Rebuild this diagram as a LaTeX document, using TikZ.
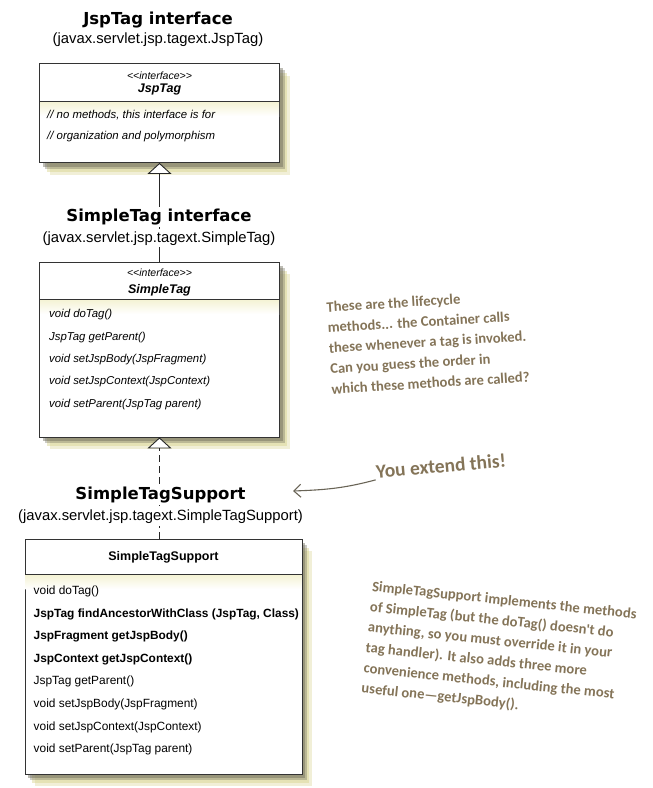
\documentclass[tikz,border=0pt]{standalone}
\usepackage{fontspec}
\setmainfont{Liberation Sans}
\newfontfamily\titlefont{DejaVu Sans}
\newfontfamily\handfont{Carlito}
\usetikzlibrary{arrows.meta,positioning,shadows}
\definecolor{shadowcol}{RGB}{110,108,90}
\definecolor{haze}{RGB}{215,210,140}
\definecolor{notecol}{RGB}{132,116,88}
\definecolor{arrowcol}{RGB}{105,100,86}
\definecolor{bandcol}{RGB}{244,242,210}
\tikzset{
  umlbox/.style={draw=black!80, line width=0.8pt, fill=white, inner sep=0pt,
    drop shadow={shadow xshift=10pt, shadow yshift=-12pt, fill=haze, opacity=.35},
    drop shadow={shadow xshift=7pt, shadow yshift=-9pt, fill=haze, opacity=.45},
    drop shadow={shadow xshift=5pt, shadow yshift=-6pt, fill=shadowcol, opacity=.35},
    drop shadow={shadow xshift=3pt, shadow yshift=-4pt, fill=shadowcol, opacity=.45}},
  heading/.style={font=\titlefont\bfseries\fontsize{16.5}{19}\selectfont, fill=white, inner sep=2pt},
  pkgname/.style={font=\fontsize{14.8}{17}\selectfont, fill=white, inner sep=2pt},
  stereo/.style={font=\itshape\fontsize{10.5}{12}\selectfont, inner sep=0pt},
  boxname/.style={font=\bfseries\itshape\fontsize{12.5}{14}\selectfont, inner sep=0pt},
  method/.style={anchor=west, inner sep=0pt, font=\itshape\fontsize{11.4}{13}\selectfont},
  suppmethod/.style={anchor=west, inner sep=0pt, font=\fontsize{11.9}{13}\selectfont},
  note/.style={font=\handfont\bfseries\fontsize{14.6}{20.5}\selectfont, text=notecol, align=left},
  inherit/.style={draw=black!85, line width=0.9pt,
    -{Triangle[open, fill=white, width=24pt, length=11pt, line width=0.9pt]}}
}
\begin{document}
\begin{tikzpicture}[x=1pt,y=-1pt]
\useasboundingbox (0,0) rectangle (653,788);
% class boxes
\node[umlbox, minimum width=240pt, minimum height=99pt] (jspbox) at (159.5,113) {};
\node[umlbox, minimum width=240pt, minimum height=175pt] (simplebox) at (159.5,349.5) {};
\node[umlbox, minimum width=277pt, minimum height=235pt] (supportbox) at (163.5,656.5) {};
\foreach \xl/\xr/\y in {39.5/279.5/101, 39.5/279.5/299, 25/302/574} {
  \shade[top color=bandcol, bottom color=white] ({\xl+0.5},\y) rectangle ({\xr-0.5},{\y+15});
  \draw[draw=black!80, line width=0.8pt] (\xl,\y) -- (\xr,\y);
}
% headers
\node[stereo] (jspstereo) at (159.5,76) {<\kern0pt<interface>\kern0pt>};
\node[boxname] (jspname) at (159.5,89.5) {JspTag};
\node[stereo] (simplestereo) at (159.5,273) {<\kern0pt<interface>\kern0pt>};
\node[boxname] (simplename) at (159.5,290) {SimpleTag};
\node[font=\bfseries\fontsize{12.5}{14}\selectfont, inner sep=0pt] (suppname) at (163.5,557) {SimpleTagSupport};
% members
\node[method] (jm1) at (47,115) {// no methods, this interface is for};
\node[method] (jm2) at (47,136.7) {// organization and polymorphism};
\foreach \m [count=\i] in {{void doTag()}, {JspTag getParent()}, {void setJspBody(JspFragment)},
    {void setJspContext(JspContext)}, {void setParent(JspTag parent)}}
  \node[method] (sm\i) at (49,{315+22.3*(\i-1)}) {\m};
\foreach \m [count=\i] in {{void doTag()}, {\textbf{JspTag findAncestorWithClass (JspTag, Class)}},
    {\textbf{JspFragment getJspBody()}}, {\textbf{JspContext getJspContext()}}, {JspTag getParent()},
    {void setJspBody(JspFragment)}, {void setJspContext(JspContext)}, {void setParent(JspTag parent)}}
  \node[suppmethod] (pm\i) at (33.5,{591.5+22.6*(\i-1)}) {\m};
% inheritance
\draw[inherit] (simplebox.north) -- (jspbox.south);
\draw[inherit, dash pattern=on 7pt off 4pt] (simplebox.south |- supportbox.north) -- (simplebox.south);
% titles
\node[heading] (jsptitle) at (158,20) {JspTag interface};
\node[pkgname] (jsppkg) at (158,40) {(javax.servlet.jsp.tagext.JspTag)};
\node[heading] (simpletitle) at (159,216.7) {SimpleTag interface};
\node[pkgname] (simplepkg) at (159,238.3) {(javax.servlet.jsp.tagext.SimpleTag)};
\node[heading] (supptitle) at (160.5,495) {SimpleTagSupport};
\node[pkgname] (supppkg) at (160.5,516.7) {(javax.servlet.jsp.tagext.SimpleTagSupport)};
% notes
\node[note, rotate=3.5] (lifenote) at (428,342) {These are the lifecycle\\methods... the Container calls\\these whenever a tag is invoked.\\Can you guess the order in\\which these methods are called?};
\node[note, font=\handfont\bfseries\fontsize{19.5}{24}\selectfont, rotate=5, inner sep=1pt] (extendnote) at (441,466) {You extend this!};
\node[note, rotate=-6] (suppnote) at (499,652) {SimpleTagSupport implements the methods\\of SimpleTag (but the doTag() doesn't do\\anything, so you must override it in your\\tag handler). It also adds three more\\convenience methods, including the most\\useful one—getJspBody().};
\coordinate (extendtip) at (293,491);
\draw[arrowcol, line width=1.1pt, -{Straight Barb[length=7pt, width=13pt]}] (extendnote.south west) to[out=195, in=2] (extendtip);
\end{tikzpicture}
\end{document}
